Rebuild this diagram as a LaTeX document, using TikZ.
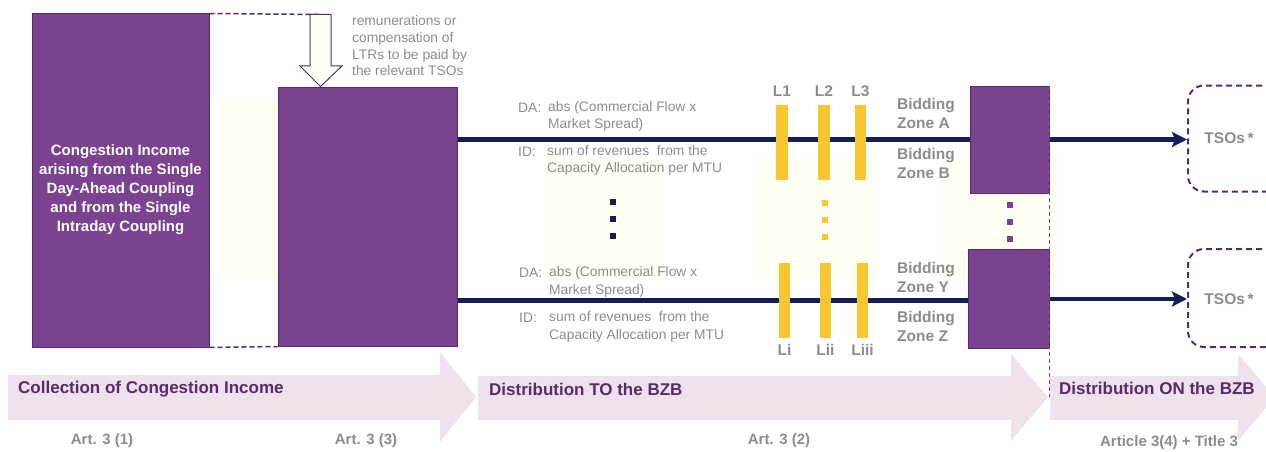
\documentclass[tikz,border=0pt]{standalone}
\usepackage{fontspec}
\setmainfont{Liberation Sans}
\usetikzlibrary{arrows.meta,calc,positioning}
\definecolor{cipurple}{HTML}{7B4290}
\definecolor{cidark}{HTML}{5A2A6E}
\definecolor{flownavy}{HTML}{121E5C}
\definecolor{baryellow}{HTML}{F8C631}
\definecolor{bandpink}{HTML}{F0E2EC}
\definecolor{txtgray}{HTML}{8C8C8C}
\definecolor{cream}{HTML}{FFFFF3}
\tikzset{
mybox/.style={
  rectangle,
  fill=cipurple,
  draw=cidark,
  line width=1pt,
  inner sep=0pt,
  }
}
\tikzset{
myline/.style={
  line width=4.5pt,
  draw=flownavy,
  },
myarrow/.style={
  myline,
  -{Stealth[length=15pt,width=15pt,inset=3pt]}
  },
mybar/.style={rectangle, fill=baryellow, inner sep=0pt, minimum width=11.5pt, minimum height=75pt},
mydot/.style={rectangle, inner sep=0pt, minimum size=6pt},
mydash/.style={draw=cidark, line width=1.5pt, dash pattern=on 5pt off 3pt},
mylabel/.style={text=txtgray, font=\fontsize{15.5}{19}\selectfont\bfseries, inner sep=0pt, align=left},
mytext/.style={text=txtgray, font=\fontsize{13.8}{17.5}\selectfont, inner sep=0pt, align=left},
myband/.style={fill=bandpink},
mybandtext/.style={text=cidark, font=\fontsize{17}{20}\selectfont\bfseries, inner sep=0pt, anchor=west},
myart/.style={text=txtgray, font=\fontsize{15}{18}\selectfont\bfseries, inner sep=0pt},
mytso/.style={rectangle, rounded corners=16pt, draw=cidark, line width=2pt, dash pattern=on 6pt off 4pt, minimum width=110pt, minimum height=106pt, inner sep=0pt}
}

\begin{document}
\begin{tikzpicture}[x=1pt,y=-1pt]
    \useasboundingbox (0,0) rectangle (1266,452);

    % faint backgrounds
    \fill[cream] (222,98) rectangle (278,275);
    \fill[cream] (546,158) rectangle (662,278);
    \fill[cream] (758,159) rectangle (873,280);
    \fill[cream] (942,159) rectangle (1058,281);

    % bottom bands
    \fill[myband] (8,375) -- (440,375) -- (440,352) -- (476,397) -- (440,442) -- (440,420) -- (8,420) -- cycle;
    \fill[myband] (478,376) -- (1011,376) -- (1011,354) -- (1048,397) -- (1011,441) -- (1011,420) -- (478,420) -- cycle;
    \fill[myband] (1050,376) -- (1238,376) -- (1238,354) -- (1275,397) -- (1238,441) -- (1238,420) -- (1050,420) -- cycle;
    \coordinate (band2_tip) at (1048,397);
    \node[mybandtext] (band1_txt) at (18,389) {Collection of Congestion Income};
    \node[mybandtext] (band2_txt) at (489,389) {Distribution TO the BZB};
    \node[mybandtext] (band3_txt) at (1059,388) {Distribution ON the BZB};

    % article references
    \node[myart] (art31) at (102,441) {Art. 3 (1)};
    \node[myart] (art33) at (366,441) {Art. 3 (3)};
    \node[myart] (art32) at (779,441) {Art. 3 (2)};
    \node[myart] (art34) at (1169,443) {Article 3(4) + Title 3};

    % collection part
    \node[mybox, minimum width=177pt, minimum height=333pt] (ci_box) at (120.5,180.5) {};
    \node[text=white, font=\fontsize{15}{19}\selectfont\bfseries, align=center, inner sep=0pt] (ci_txt) at (120.5,190)
      {Congestion Income\\arising from the Single\\Day-Ahead Coupling\\and from the Single\\Intraday Coupling};
    \node[mybox, minimum width=179pt, minimum height=259pt] (dist_box) at (367.5,216.5) {};
    \coordinate (ltr_top) at (320.5,14.5);
    \draw[mydash] (ci_box.north east) -- (ltr_top);
    \draw[mydash] (ci_box.south east) -- (dist_box.south west);
    \draw[draw=cidark, fill=white!96!yellow, line width=1pt]
      (310,14.5) -- (310,66) -- (300,66) -- (320.5,86.5) -- (342,66) -- (331,66) -- (331,14.5) -- cycle;
    \node[mytext, anchor=west, font=\fontsize{13.8}{16.7}\selectfont] (ltr_txt) at (352,46)
      {remunerations or\\compensation of\\LTRs to be paid by\\the relevant TSOs};

    % bidding zone borders
    \node[mybox, minimum width=79pt, minimum height=107pt] (bz_ab) at (1009.5,139.5) {};
    \node[mybox, minimum width=81pt, minimum height=99pt] (bz_yz) at (1008.5,298.5) {};
    \draw[myline] (dist_box.east |- bz_ab.west) -- (bz_ab.west);
    \draw[myline] (dist_box.east |- 0,300.5) -- (bz_yz.west |- 0,300.5);

    % revenue texts
    \node[mytext, anchor=west] (da_a) at (518,108) {DA:};
    \node[mytext, anchor=west] (da_a_txt) at (548,116.5) {abs (Commercial Flow x\\Market Spread)};
    \node[mytext, anchor=west] (id_a) at (518,152) {ID:};
    \node[mytext, anchor=west] (id_a_txt) at (547,160.5) {sum of revenues\ \ from the\\Capacity Allocation per MTU};
    \node[mytext, anchor=west] (da_y) at (519,273) {DA:};
    \node[mytext, anchor=west] (da_y_txt) at (549,282) {abs (Commercial Flow x\\Market Spread)};
    \node[mytext, anchor=west] (id_y) at (519,318) {ID:};
    \node[mytext, anchor=west] (id_y_txt) at (549,327) {sum of revenues\ \ from the\\Capacity Allocation per MTU};

    % lines crossing the border
    \foreach \nm/\x/\t in {l1/782/L1, l2/824/L2, l3/860.5/L3} {
      \node[mybar] (\nm) at (\x,142.5) {};
      \node[mylabel] (\nm_lbl) at (\x,91) {\t};
    }
    \foreach \nm/\x/\t in {li/784.5/Li, lii/825.5/Lii, liii/862.5/Liii} {
      \node[mybar] (\nm) at (\x,300.5) {};
      \node[mylabel] (\nm_lbl) at (\x,350) {\t};
    }

    % dots
    \foreach \y in {202,219,236} {
      \node[mydot, fill=flownavy] (ndot\y) at (613,\y) {};
      \node[mydot, fill=baryellow] (ydot\y) at (824.5,\y+1) {};
      \node[mydot, fill=cipurple] (pdot\y) at (1010,\y+3) {};
    }

    % bidding zone labels
    \node[mylabel, anchor=west] (zone_a) at (897,113.5) {Bidding\\Zone A};
    \node[mylabel, anchor=west] (zone_b) at (897,163) {Bidding\\Zone B};
    \node[mylabel, anchor=west] (zone_y) at (897,277.5) {Bidding\\Zone Y};
    \node[mylabel, anchor=west] (zone_z) at (897,326) {Bidding\\Zone Z};

    % distribution on the border
    \draw[draw=cipurple, line width=1pt, dash pattern=on 4pt off 3pt] (bz_ab.north east) -- (bz_ab.north east |- band2_tip);
    \node[mytso] (tso_a) at (1243,138.5) {};
    \node[mytso, minimum height=98pt] (tso_y) at (1243,298) {};
    \node[mylabel] (tso_a_txt) at (1229,138) {TSOs\,*};
    \node[mylabel] (tso_y_txt) at (1229,299) {TSOs\,*};
    \draw[myarrow] (bz_ab.east) -- (tso_a.west |- bz_ab.east);
    \draw[myarrow] (bz_yz.east |- 0,299) -- (tso_y.west |- 0,299);
\end{tikzpicture}
\end{document}
